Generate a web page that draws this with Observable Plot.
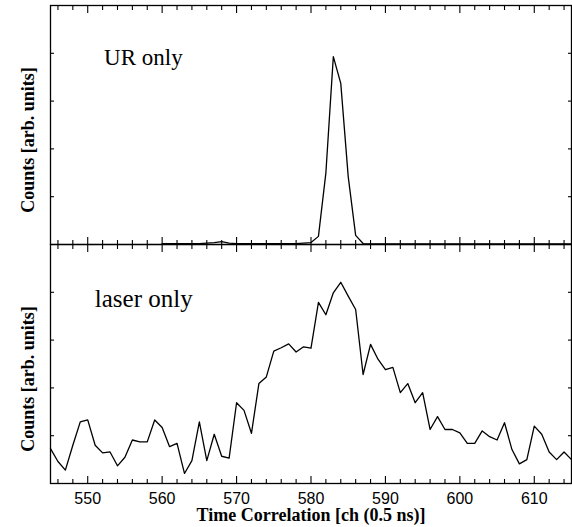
<!DOCTYPE html>
<html><head><meta charset="utf-8">
<script src="https://cdn.jsdelivr.net/npm/d3@7"></script>
<script src="https://cdn.jsdelivr.net/npm/@observablehq/plot@0.6"></script>
<style>body{margin:0;background:#fff;} #chart svg{display:block}</style>
</head><body><div id="chart"></div>
<script>
// Panels
const panels = ["UR only", "laser only"];

// UR only: channels 560..615
const urChannels = d3.range(560, 616);
const urCounts = [
  0.02, 0.02, 0.02, 0.02, 0.02, 0.02, 0.03, 0.04, 0.06, 0.03,
  0.02, 0.02, 0.02, 0.02, 0.02, 0.02, 0.02, 0.02, 0.02, 0.03,
  0.04, 0.17, 1.50, 3.93, 3.37, 1.42, 0.19, 0.02, 0.01, 0.01,
  0.01, 0.01, 0.01, 0.01, 0.01, 0.01, 0.01, 0.01, 0.01, 0.01,
  0.01, 0.01, 0.01, 0.01, 0.01, 0.01, 0.01, 0.01, 0.01, 0.01,
  0.01, 0.01, 0.01, 0.01, 0.01, 0.01
];

// laser only: channels 545..615
const laserChannels = d3.range(545, 616);
const laserCounts = [
  0.73, 0.46, 0.28, 0.80, 1.29, 1.33, 0.80, 0.64, 0.66, 0.37,
  0.55, 0.91, 0.87, 0.87, 1.33, 1.17, 0.77, 0.84, 0.21, 0.48,
  1.29, 0.48, 1.03, 0.57, 0.53, 1.69, 1.53, 1.05, 2.09, 2.23,
  2.77, 2.84, 2.92, 2.75, 2.86, 2.83, 3.79, 3.53, 3.99, 4.21,
  3.92, 3.64, 2.28, 2.91, 2.60, 2.38, 2.43, 1.90, 2.09, 1.69,
  1.90, 1.13, 1.40, 1.13, 1.13, 1.06, 0.84, 0.84, 1.10, 0.98,
  0.91, 1.27, 0.71, 0.41, 0.50, 1.20, 1.03, 0.66, 0.50, 0.66,
  0.50
];

// Axes
const xDomain = [545, 615];
const yDomain = [0, 5];
const xMajorTicks = [550, 560, 570, 580, 590, 600, 610];
const xMinorTicks = [546, 548, 552, 554, 556, 558, 562, 564, 566, 568, 572, 574, 576, 578,
  582, 584, 586, 588, 592, 594, 596, 598, 602, 604, 606, 608, 612, 614];
const yTicks = [1, 2, 3, 4];
const yLabel = "Counts [arb. units]";
const xLabel = "Time Correlation [ch (0.5 ns)]";

// Annotation anchors (data coordinates)
const urNote = [{panel: "UR only", ch: 552.2, v: 3.90, label: "UR only"}];
const laserNote = [{panel: "laser only", ch: 550.95, v: 3.86, label: "laser only"}];

const rows = [
  ...urChannels.map((c, i) => ({panel: panels[0], ch: c, v: urCounts[i]})),
  ...laserChannels.map((c, i) => ({panel: panels[1], ch: c, v: laserCounts[i]}))
];

const tickStyle = {facetAnchor: null, fill: "none", label: null, stroke: "black", strokeWidth: 1.1};

const chart = Plot.plot({
  width: 572,
  height: 527,
  marginLeft: 50,
  marginRight: 1,
  marginTop: 5,
  marginBottom: 43.5,
  style: {background: "white", color: "black", fontFamily: "Liberation Sans"},
  x: {domain: xDomain},
  y: {domain: yDomain},
  fy: {domain: panels, padding: 0, axis: null, label: null},
  marks: [
    Plot.axisX(xMinorTicks, {anchor: "top", tickSize: -4, ...tickStyle}),
    Plot.axisX(xMinorTicks, {anchor: "bottom", tickSize: -4, ...tickStyle}),
    Plot.axisX(xMajorTicks, {anchor: "top", tickSize: -7, ...tickStyle}),
    Plot.axisX(xMajorTicks, {anchor: "bottom", tickSize: -7, ...tickStyle}),
    Plot.axisY(yTicks, {anchor: "left", tickSize: -4, ...tickStyle}),
    Plot.axisY(yTicks, {anchor: "right", tickSize: -4, ...tickStyle}),
    Plot.axisX(xMajorTicks, {anchor: "bottom", tickSize: 0, tickPadding: 9, fontSize: 16,
      fontFamily: "Liberation Sans", label: null, fill: "black"}),
    Plot.lineY(rows, {x: "ch", y: "v", fy: "panel", stroke: "black", strokeWidth: 1.3}),
    Plot.frame({stroke: "black", strokeWidth: 1.3}),
    Plot.text(panels, {fy: d => d, text: () => yLabel, frameAnchor: "left", textAnchor: "middle",
      rotate: -90, dx: -22, dy: 15, fontSize: 18, fontWeight: "bold", fontFamily: "Liberation Serif",
      lineAnchor: "middle", fill: "black"}),
    Plot.text([panels[1]], {fy: d => d, text: () => xLabel, frameAnchor: "bottom", textAnchor: "middle",
      dy: 32, fontSize: 18, fontWeight: "bold", fontFamily: "Liberation Serif", lineAnchor: "middle", fill: "black"}),
    Plot.text(urNote, {fy: "panel", x: "ch", y: "v", text: "label", textAnchor: "start",
      lineAnchor: "middle", fontSize: 23, fontFamily: "Liberation Serif", fill: "black"}),
    Plot.text(laserNote, {fy: "panel", x: "ch", y: "v", text: "label", textAnchor: "start",
      lineAnchor: "middle", fontSize: 25, fontFamily: "Liberation Serif", fill: "black"})
  ]
});
document.getElementById("chart").append(chart);
</script>
</body></html>
